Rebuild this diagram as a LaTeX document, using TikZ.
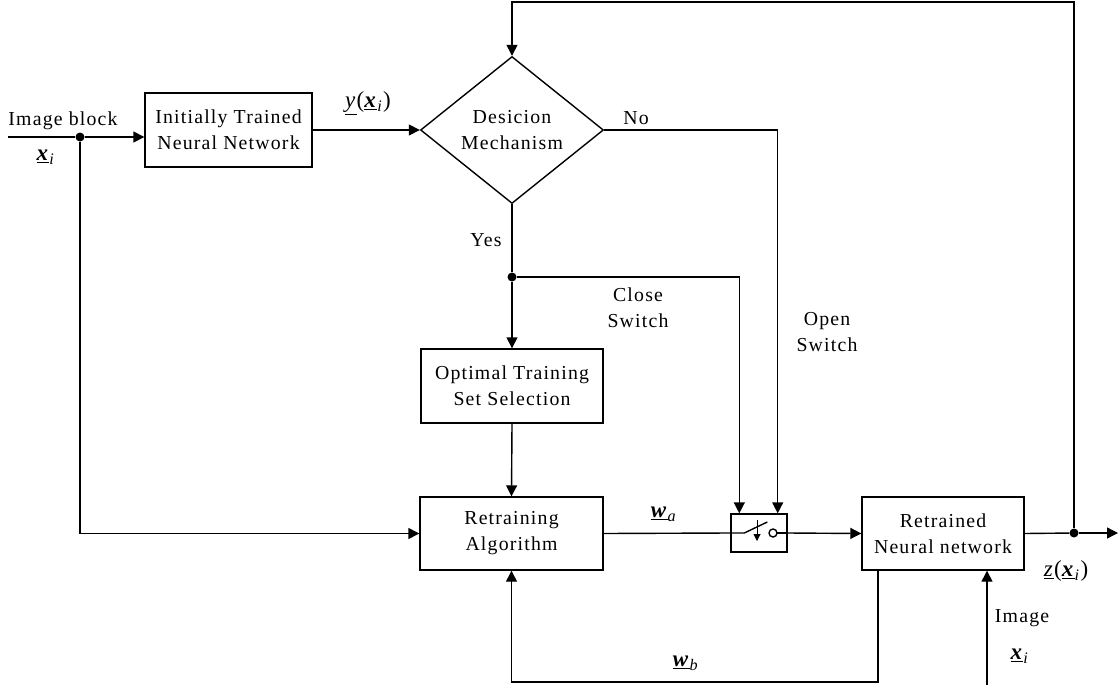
\documentclass[tikz,border=0pt]{standalone}
\usepackage{fontspec}
\setmainfont{Liberation Serif}[LetterSpace=6]
\usetikzlibrary{arrows.meta,positioning,shapes.geometric,calc}
\newcommand{\uvec}[2]{\underline{\textbf{\textit{#1}}}\textsubscript{\textit{#2}}}
\tikzset{
  blk/.style={rectangle, draw, line width=1.4pt, align=center, inner sep=0pt},
  decide/.style={diamond, draw, line width=1.4pt, align=center, inner sep=0pt, minimum width=183pt, minimum height=147pt},
  arrow/.style={-{Triangle[length=11pt,width=11pt]}, line width=1.4pt},
  wire/.style={line width=1.4pt},
  junc/.style={circle, fill, inner sep=0pt, minimum size=9pt},
  lbl/.style={inner sep=0pt, align=center},
  var/.style={inner sep=0pt, font=\fontsize{23}{26}\selectfont}
}
\begin{document}
\begin{tikzpicture}[x=1pt, y=-1pt, font=\fontsize{19.8}{26}\selectfont]
  \useasboundingbox (0,0) rectangle (1118,685);
  % blocks
  \node[blk, minimum width=167pt, minimum height=74pt] (itnn) at (228.5,130) {Initially Trained\\Neural Network};
  \node[decide] (dm) at (512,130) {Desicion\\Mechanism};
  \node[blk, minimum width=182pt, minimum height=74pt] (ots) at (512,386) {Optimal Training\\Set Selection};
  \node[blk, minimum width=183pt, minimum height=73pt] (ra) at (511.5,533.5) {Retraining\\Algorithm};
  \node[blk, minimum width=56pt, minimum height=38pt] (sw) at (759,533) {};
  \node[blk, minimum width=162pt, minimum height=73pt] (rnn) at (943,533.5) {Retrained\\Neural network};
  % junctions and free ends
  \coordinate (in) at (8,137);
  \node[junc] (j1) at (80,137) {};
  \node[junc] (j2) at (512,277) {};
  \node[junc] (j3) at (1074,533) {};
  \coordinate (out) at (1118,533);
  \coordinate (fb) at (512,2);
  \coordinate (img) at (987,685);
  \coordinate (wb) at (878,682);
  \coordinate (swc) at ($(sw.north west)+(9,0)$);
  \coordinate (swo) at ($(sw.north east)+(-10,0)$);
  % connectors
  \draw[wire] (in) -- (j1);
  \draw[arrow] (j1) -- (j1 -| itnn.west);
  \draw[arrow] (itnn.east) -- (dm.west);
  \draw[arrow] (j1) |- (ra.west);
  \draw[arrow] (dm.east) -| (swo);
  \draw[wire] (dm.south) -- (j2);
  \draw[arrow] (j2) -- (ots.north);
  \draw[arrow] (j2) -| (swc);
  \draw[arrow] (ots.south) -- (ra.north);
  \draw[wire] (ra.east) -- (sw.west);
  \draw[arrow] (sw.east) -- (rnn.west);
  \draw[wire] (rnn.east) -- (j3);
  \draw[arrow] (j3) -- (out);
  \draw[arrow] (j3) |- (fb) -- (dm.north);
  \draw[arrow] (img) -- (img |- rnn.south);
  \draw[arrow] (wb |- rnn.south) -- (wb) -| (ra.south);
  % switch symbol
  \draw[wire] (sw.west) -- ++(14,0) -- ++(23,-11);
  \draw[wire] ($(sw.center)+(14,0)$) circle[radius=4pt];
  \draw[wire] ($(sw.center)+(18,0)$) -- (sw.east);
  \draw[-{Triangle[length=7pt,width=7pt]}, line width=1pt] ($(sw.center)+(-2,-13)$) -- ($(sw.center)+(-2,8)$);
  % labels
  \node[lbl] (limg) at (63,121) {Image block};
  \node[var] (lx1) at (46,157) {\uvec{x}{i}};
  \node[var] (ly) at (368,103) {\underline{\textit{y}}(\uvec{x}{i})};
  \node[lbl] (lno) at (636,118) {No};
  \node[lbl] (lyes) at (486,240) {Yes};
  \node[lbl] (lclose) at (638,308) {Close\\Switch};
  \node[lbl] (lopen) at (827,332) {Open\\Switch};
  \node[var] (lwa) at (664,514) {\uvec{w}{a}};
  \node[var] (lwb) at (686,663) {\uvec{w}{b}};
  \node[var] (lz) at (1066,571) {\underline{\textit{z}}(\uvec{x}{i})};
  \node[lbl] (limg2) at (1022,618) {Image};
  \node[var] (lx2) at (1020,656) {\uvec{x}{i}};
\end{tikzpicture}
\end{document}
